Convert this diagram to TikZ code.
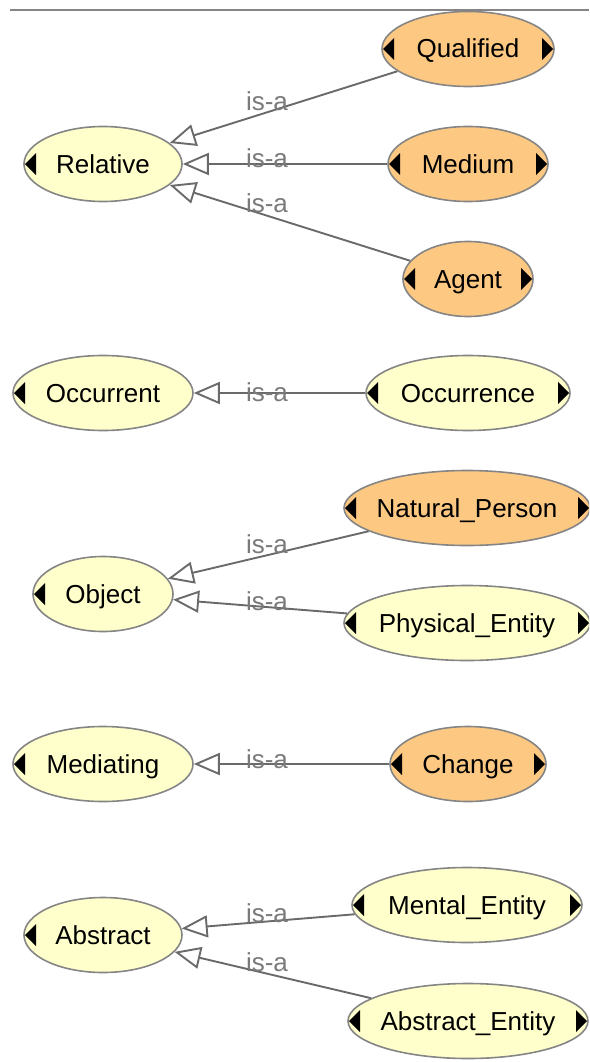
\documentclass[tikz,border=0pt]{standalone}
\usepackage{fontspec}
\setmainfont{Liberation Sans}
\usetikzlibrary{shapes.geometric,arrows.meta}

\definecolor{classfill}{HTML}{FFFFCC}
\definecolor{indivfill}{HTML}{FCC882}
\definecolor{rimgray}{HTML}{858585}
\definecolor{edgegray}{HTML}{6A6A6A}
\definecolor{labelgray}{HTML}{7A7A7A}

% zero-width box so the ellipse size comes only from minimum width/height
\newcommand\cname[1]{\makebox[0pt][c]{#1}}

\tikzset{
  cls/.style={ellipse, draw=rimgray, line width=1.6pt, fill=classfill,
    minimum height=75pt, inner sep=0pt, text height=18pt, text depth=0pt,
    font=\fontsize{26}{31}\selectfont},
  indiv/.style={cls, fill=indivfill},
  lefttri/.style={path picture={
    \fill[black] ([xshift=1pt]path picture bounding box.west)
      -- ++(11pt,11pt) -- ++(0pt,-22pt) -- cycle;}},
  bothtri/.style={path picture={
    \fill[black] ([xshift=1pt]path picture bounding box.west)
      -- ++(11pt,11pt) -- ++(0pt,-22pt) -- cycle;
    \fill[black] ([xshift=-1pt]path picture bounding box.east)
      -- ++(-11pt,11pt) -- ++(0pt,-22pt) -- cycle;}},
  isa/.style={draw=edgegray, line width=1.9pt,
    -{Triangle[open,length=26pt,width=22pt]}},
  isalbl/.style={text=labelgray, font=\fontsize{26}{31}\selectfont,
    anchor=base, inner sep=0pt},
}

\begin{document}
\begin{tikzpicture}[x=1pt,y=-1pt]
\useasboundingbox (0,0) rectangle (589,1062);
\clip (0,0) rectangle (589,1062);

% header rule
\draw[rimgray, line width=1.2pt] (10,10) -- (589,10);

% classes and individuals
\node[indiv, bothtri, minimum width=172pt] (qualified) at (468,49) {\cname{Qualified}};
\node[indiv, bothtri, minimum width=160pt] (medium) at (468,164) {\cname{Medium}};
\node[indiv, bothtri, minimum width=130pt] (agent) at (468,279) {\cname{Agent}};
\node[cls, lefttri, minimum width=158pt] (relative) at (103,164) {\cname{Relative}};

\node[cls, lefttri, minimum width=180pt] (occurrent) at (103,393) {\cname{Occurrent}};
\node[cls, bothtri, minimum width=204pt] (occurrence) at (468,393) {\cname{Occurrence}};

\node[indiv, bothtri, minimum width=246pt] (naturalperson) at (467,508) {\cname{Natural\_Person}};
\node[cls, bothtri, minimum width=246pt] (physical) at (467,623) {\cname{Physical\_Entity}};
\node[cls, lefttri, minimum width=140pt] (object) at (103,594) {\cname{Object}};

\node[cls, lefttri, minimum width=180pt] (mediating) at (103,764) {\cname{Mediating}};
\node[indiv, bothtri, minimum width=156pt] (change) at (468,764) {\cname{Change}};

\node[cls, bothtri, minimum width=230pt] (mental) at (467,905) {\cname{Mental\_Entity}};
\node[cls, bothtri, minimum width=240pt] (abstractentity) at (468,1021) {\cname{Abstract\_Entity}};
\node[cls, lefttri, minimum width=158pt] (abstract) at (103,935) {\cname{Abstract}};

% is-a links
\draw[isa] (qualified) -- (relative) node[isalbl, at={(267,111)}] {is-a};
\draw[isa] (medium) -- (relative) node[isalbl, at={(267,167)}] {is-a};
\draw[isa] (agent) -- (relative) node[isalbl, at={(267,212)}] {is-a};
\draw[isa] (occurrence) -- (occurrent) node[isalbl, at={(267,401)}] {is-a};
\draw[isa] (naturalperson) -- (object) node[isalbl, at={(267,553)}] {is-a};
\draw[isa] (physical) -- (object) node[isalbl, at={(267,610)}] {is-a};
\draw[isa] (change) -- (mediating) node[isalbl, at={(267,768)}] {is-a};
\draw[isa] (mental) -- (abstract) node[isalbl, at={(267,922)}] {is-a};
\draw[isa] (abstractentity) -- (abstract) node[isalbl, at={(267,971)}] {is-a};
\end{tikzpicture}
\end{document}
